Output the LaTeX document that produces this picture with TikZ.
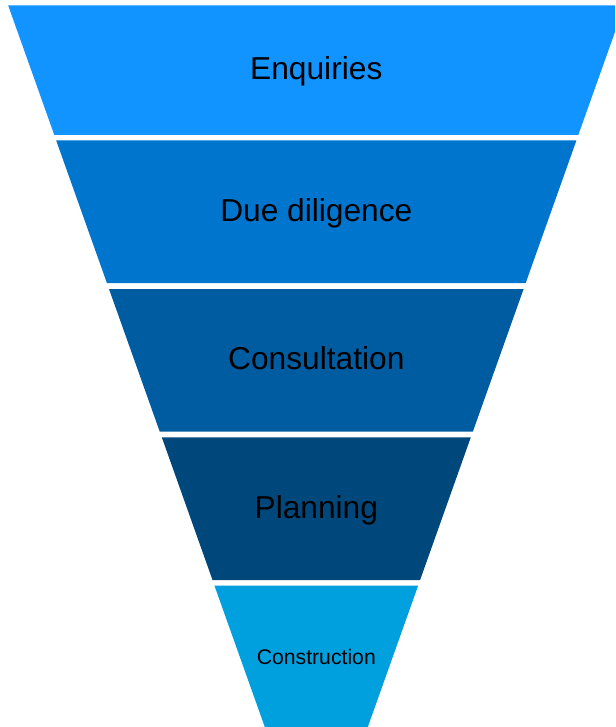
\documentclass[tikz,border=0pt]{standalone}
\usepackage{fontspec}
\setmainfont{Liberation Sans}

\definecolor{enqblue}{RGB}{17,148,255}
\definecolor{dueblue}{RGB}{0,117,206}
\definecolor{conblue}{RGB}{0,92,160}
\definecolor{planblue}{RGB}{0,72,124}
\definecolor{buildblue}{RGB}{0,160,222}

\begin{document}
\begin{tikzpicture}[x=1pt,y=-1pt]

      \useasboundingbox (0,0) rectangle (615,727);
      \clip (0,0) rectangle (615,727);

      \begin{scope}[every path/.style={draw=none}]
        \fill[enqblue]   (8.2,5.5)   -- (624.4,5.5)   -- (578.3,135)   -- (54.3,135)   -- cycle;
        \fill[dueblue]   (56.2,140.5) -- (576.4,140.5) -- (525.7,283)   -- (106.9,283)  -- cycle;
        \fill[conblue]   (109.0,289)  -- (523.6,289)   -- (472.9,431.5) -- (159.7,431.5) -- cycle;
        \fill[planblue]  (161.8,437.3) -- (470.8,437.3) -- (420.1,580)  -- (212.5,580)  -- cycle;
        \fill[buildblue] (214.4,585.5) -- (418.2,585.5) -- (367.8,727)  -- (264.8,727)  -- cycle;
      \end{scope}

      \begin{scope}[every node/.style={anchor=base,inner sep=0pt,font=\fontsize{31.7}{38}\selectfont}]
        \node (enquiries)    at (316.3,80)    {Enquiries};
        \node (diligence)    at (316.3,221.7) {Due diligence};
        \node (consultation) at (316.3,369.5) {Consultation};
        \node (planning)     at (316.3,518.3) {Planning};
        \node[font=\fontsize{21.2}{25}\selectfont] (construction) at (316.3,664.3) {Construction};
      \end{scope}

    \end{tikzpicture}
\end{document}
